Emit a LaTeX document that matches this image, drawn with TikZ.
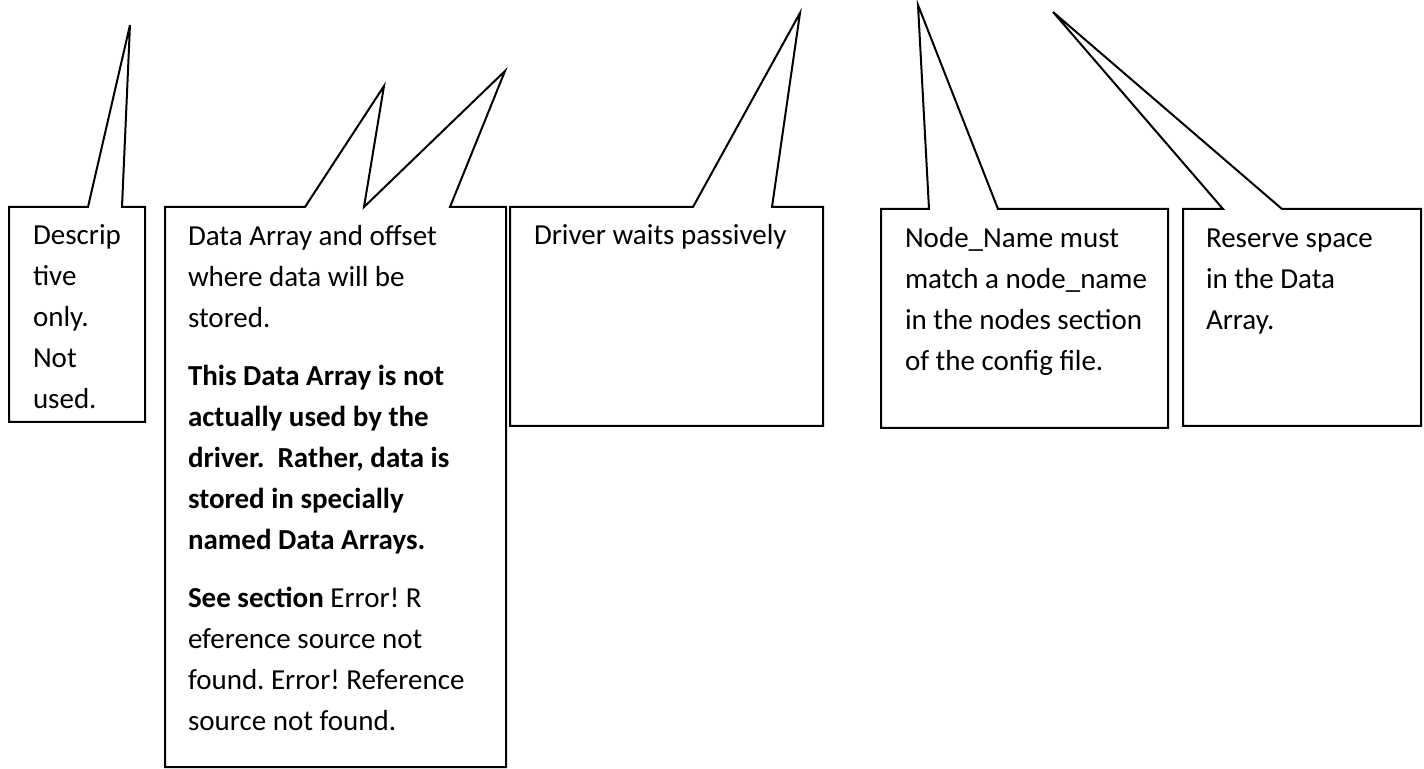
\documentclass[tikz,border=0pt]{standalone}
\usepackage{fontspec}
\setmainfont{Carlito}

\begin{document}
\frenchspacing
\begin{tikzpicture}[x=0.5pt, y=-0.5pt, line width=1pt,
	note/.style={anchor=north west, inner sep=0pt, align=left, font=\fontsize{14.5}{20.5}\selectfont},
	callout/.style={draw=black, line join=miter}]
	\useasboundingbox (0,0) rectangle (1424,769);
	% pointer tips
	\coordinate (descTip) at (130,25);
	\coordinate (arrTipA) at (384,86);
	\coordinate (arrTipB) at (505,71);
	\coordinate (waitTip) at (800,13);
	\coordinate (nameTip) at (918,5);
	\coordinate (spaceTip) at (1053,12);
	% outlines
	\draw[callout] (9,207) -- (88,207) -- (descTip) -- (122,207) -- (145,207) -- (145,422) -- (9,422) -- cycle;
	\draw[callout] (165,207) -- (305,207) -- (arrTipA) -- (364,207) -- (arrTipB) -- (450,207) -- (506,207) -- (506,767) -- (165,767) -- cycle;
	\draw[callout] (510,207) -- (693,207) -- (waitTip) -- (772,207) -- (823,207) -- (823,426) -- (510,426) -- cycle;
	\draw[callout] (881,209) -- (929,209) -- (nameTip) -- (998,209) -- (1168,209) -- (1168,428) -- (881,428) -- cycle;
	\draw[callout] (1183,209) -- (1223,209) -- (spaceTip) -- (1282,209) -- (1421,209) -- (1421,426) -- (1183,426) -- cycle;
	% texts
	\node[note] (desc) at (32,215.3) {\strut Descrip\\tive\\only.\\Not\\used.};
	\node[note] (arr) at (187,215.3) {\strut Data Array and offset\\where data will be\\stored.\\[8.5pt]
		\textbf{This Data Array is not}\\\textbf{actually used by the}\\\textbf{driver.~ Rather, data is}\\\textbf{stored in specially}\\\textbf{named Data Arrays.}\\[8.5pt]
		\textbf{See section} Error! R\\eference source not\\found. Error! Reference\\source not found.};
	\node[note] (wait) at (533,215.3) {\strut Driver waits passively};
	\node[note] (name) at (904,218.3) {\strut Node\_Name must\\match a node\_name\\in the nodes section\\of the config file.};
	\node[note] (space) at (1205,218.3) {\strut Reserve space\\in the Data\\Array.};
\end{tikzpicture}
\end{document}
